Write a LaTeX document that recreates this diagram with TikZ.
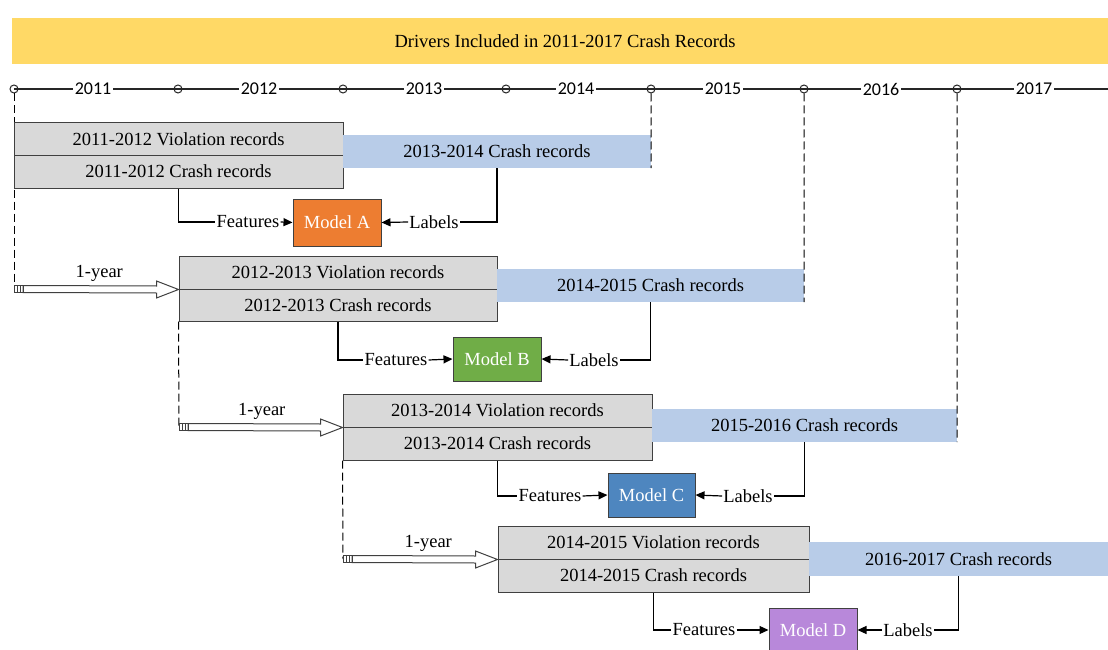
\documentclass[tikz,border=0pt]{standalone}
\usepackage{fontspec}
\setmainfont{Liberation Serif}
\newfontfamily\calib{Carlito}
\usetikzlibrary{calc,arrows.meta}
\definecolor{banner}{HTML}{FFD966}
\definecolor{recgray}{HTML}{D9D9D9}
\definecolor{barblue}{HTML}{B8CCE8}
\definecolor{mAcol}{HTML}{ED7D31}
\definecolor{mBcol}{HTML}{70AD47}
\definecolor{mCcol}{HTML}{4E86BF}
\definecolor{mDcol}{HTML}{B888DA}
\definecolor{edge}{HTML}{404040}
\begin{document}
\begin{tikzpicture}[x=1pt,y=-1pt,
  txt/.style={font=\fontsize{18.5}{22}\selectfont},
  rec/.style={draw=edge, fill=recgray, line width=1pt, minimum height=33pt, inner sep=0pt, txt},
  bar/.style={fill=barblue, minimum height=33pt, inner sep=0pt, txt},
  model/.style={draw=edge, line width=1pt, minimum width=88pt, minimum height=45pt, inner sep=0pt, text=white, txt},
  lab/.style={inner sep=1pt, txt},
  conn/.style={draw=black, line width=1.2pt},
  tip/.style={-{Triangle[length=9pt,width=8pt]}},
  dsh/.style={draw=black, line width=1pt, dash pattern=on 8pt off 4pt},
  tick/.style={circle, draw=black!85, line width=1pt, minimum size=8pt, inner sep=0pt},
  year/.style={fill=white, inner sep=1.5pt, font=\calib\fontsize{18}{20}\selectfont},
  hollow/.style={draw=edge, fill=white, line width=1pt, line join=miter},
]
\useasboundingbox (0,0) rectangle (1108,650);

% banner
\node[fill=banner, minimum width=1106pt, minimum height=46pt, inner sep=0pt, txt] (title) at (565,41) {Drivers Included in 2011-2017 Crash Records};

% timeline
\coordinate (tstart) at (14,89);
\coordinate (tend) at (1108,89);
\draw[line width=1.3pt, black!85] (tstart) -- (tend);
\node[tick] (t1) at (14,89) {};
\node[tick] (t2) at (178,89) {};
\node[tick] (t3) at (343,89) {};
\node[tick] (t4) at (506,89) {};
\node[tick] (t5) at (651,89) {};
\node[tick] (t6) at (804,89) {};
\node[tick] (t7) at (957,89) {};
\node[year] (y1) at (93,89) {2011};
\node[year] (y2) at (259,89) {2012};
\node[year] (y3) at (424,89) {2013};
\node[year] (y4) at (576,89) {2014};
\node[year] (y5) at (723,89) {2015};
\node[year] (y6) at (881,89) {2016};
\node[year] (y7) at (1034,89) {2017};

% arrow start coordinates
\coordinate (a1s) at (14,289);
\coordinate (a2s) at (179,427);
\coordinate (a3s) at (343,559);

% dashed guides
\draw[dsh] (t1.south) -- (a1s);

% group A
\node[rec, minimum width=329pt, minimum height=32pt] (vA) at (178.5,139) {2011-2012 Violation records};
\node[rec, minimum width=329pt] (cA) at (178.5,171.5) {2011-2012 Crash records};
\node[bar, minimum width=308pt] (bA) at (497,151.5) {2013-2014 Crash records};
\node[model, fill=mAcol, minimum height=47pt] (mA) at (337,222.5) {Model A};
\node[lab] (fA) at (248,222) {Features};
\node[lab] (lA) at (434,222) {Labels};
\draw[conn] (cA.south) |- (fA.west);
\draw[conn,tip] (fA.east) -- (mA.west);
\draw[conn] (bA.south) |- (lA.east);
\draw[conn,tip] (lA.west) -- (mA.east);

% group B
\node[rec, minimum width=318pt] (vB) at (338,272.5) {2012-2013 Violation records};
\node[rec, minimum width=318pt, minimum height=32pt] (cB) at (338,305) {2012-2013 Crash records};
\node[bar, minimum width=307pt] (bB) at (650.5,285.5) {2014-2015 Crash records};
\node[model, fill=mBcol, minimum height=44pt] (mB) at (497,359) {Model B};
\node[lab] (fB) at (396,360) {Features};
\node[lab] (lB) at (594,360) {Labels};
\draw[conn] (cB.south) |- (fB.west);
\draw[conn,tip] (fB.east) -- (mB.west);
\draw[conn] (bB.south) |- (lB.east);
\draw[conn,tip] (lB.west) -- (mB.east);

% group C
\node[rec, minimum width=309pt] (vC) at (497.5,410.5) {2013-2014 Violation records};
\node[rec, minimum width=309pt] (cC) at (497.5,443.5) {2013-2014 Crash records};
\node[bar, minimum width=305pt] (bC) at (804.5,425.5) {2015-2016 Crash records};
\node[model, fill=mCcol, minimum width=87pt, minimum height=44pt] (mC) at (651.5,495) {Model C};
\node[lab] (fC) at (550,496) {Features};
\node[lab] (lC) at (748,496) {Labels};
\draw[conn] (cC.south) |- (fC.west);
\draw[conn,tip] (fC.east) -- (mC.west);
\draw[conn] (bC.south) |- (lC.east);
\draw[conn,tip] (lC.west) -- (mC.east);

% group D
\node[rec, minimum width=311pt] (vD) at (653.5,542.5) {2014-2015 Violation records};
\node[rec, minimum width=311pt] (cD) at (653.5,575.5) {2014-2015 Crash records};
\node[bar, minimum width=299pt, minimum height=34pt] (bD) at (958.5,559) {2016-2017 Crash records};
\node[model, fill=mDcol, minimum height=44pt] (mD) at (813,630) {Model D};
\node[lab] (fD) at (704,630) {Features};
\node[lab] (lD) at (908,630) {Labels};
\draw[conn] (cD.south) |- (fD.west);
\draw[conn,tip] (fD.east) -- (mD.west);
\draw[conn] (bD.south) |- (lD.east);
\draw[conn,tip] (lD.west) -- (mD.east);

% remaining dashed guides
\draw[dsh] (t5.south) -- (bA.south east);
\draw[dsh] (t6.south) -- (bB.south east);
\draw[dsh] (t7.south) -- (bC.south east);
\draw[dsh] (cB.south west) -- (a2s);
\draw[dsh] (cC.south west) -- (a3s);

% hollow 1-year arrows
\foreach \s/\t/\dx in {a1s/vB.south west/3, a2s/vC.south west/1, a3s/vD.south west/8}{
  \draw[hollow] ($(\s)+(9,-3.5)$) -- ($(\t)+(-22,-3.5)$) -- ($(\t)+(-22,-8.5)$) -- (\t)
     -- ($(\t)+(-22,8.5)$) -- ($(\t)+(-22,3.5)$) -- ($(\s)+(9,3.5)$) -- cycle;
  \draw[draw=edge, line width=0.8pt] ($(\s)+(0,-3.5)$) rectangle ($(\s)+(9,3.5)$);
  \draw[draw=edge, line width=0.8pt] ($(\s)+(3,-3.5)$) -- ($(\s)+(3,3.5)$) ($(\s)+(6,-3.5)$) -- ($(\s)+(6,3.5)$);
  \node[lab] at ($($(\s)!0.5!(\t)$)+(\dx,-16)$) {1-year};
}
\end{tikzpicture}
\end{document}
